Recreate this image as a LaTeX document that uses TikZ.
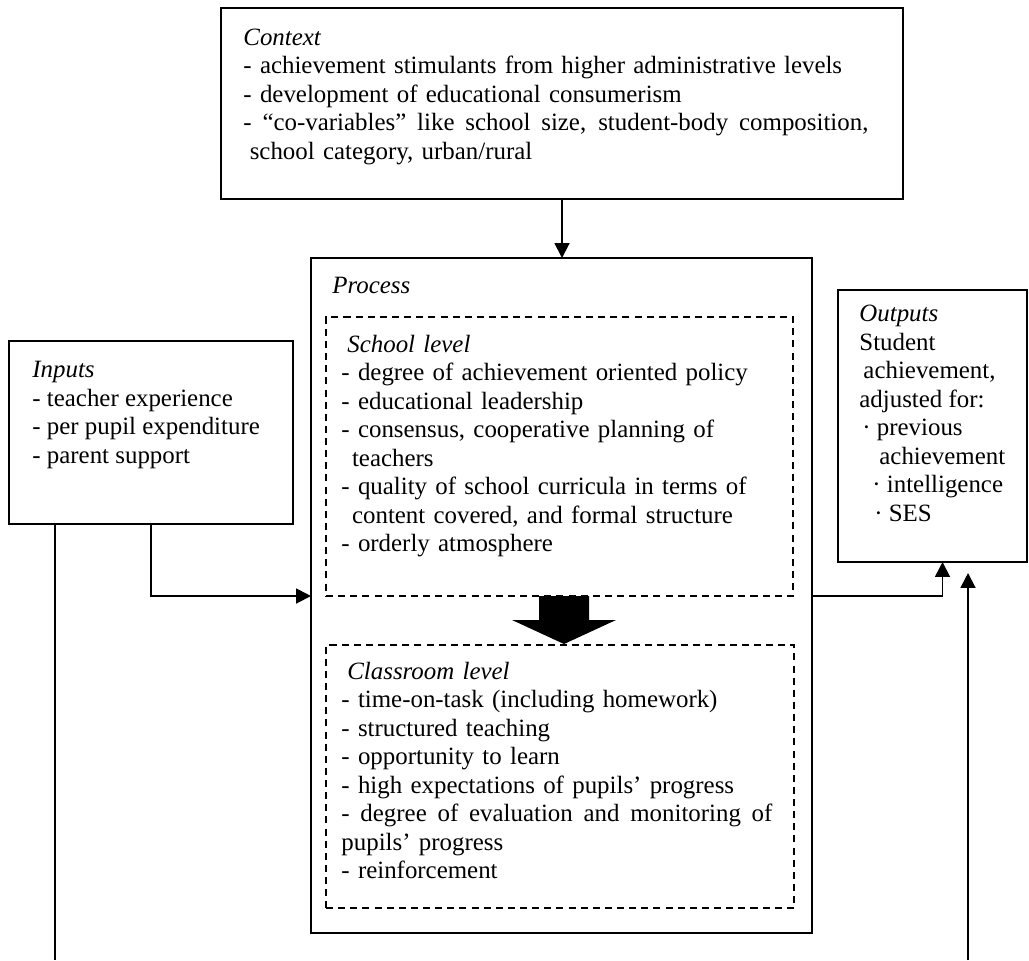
\documentclass[tikz,border=0pt]{standalone}
\usepackage{fontspec}
\setmainfont{Liberation Serif}
\usetikzlibrary{arrows.meta}

\newcommand\pxu{0.47pt}
\newcommand\fullline[1]{\makebox[\hsize][s]{\spaceskip=0pt \xspaceskip=0pt #1}}
\tikzset{box/.style 2 args = {draw, line width=.9pt, inner sep=0pt, outer sep=0pt,
                              anchor=north west,
                              minimum width=#1*\pxu, minimum height=#2*\pxu},
         dbox/.style 2 args = {box={#1}{#2}, dash pattern=on 3.3pt off 2.4pt},
         txt/.style = {anchor=north west, inner sep=0pt, align=left,
                       font=\fontsize{11.7}{13.4}\selectfont,
                       execute at begin node=\strut},
         arr/.style = {line width=.9pt, -{Triangle[length=7pt, width=7pt]}},
         lne/.style = {line width=.9pt}
        }

\begin{document}
\begin{tikzpicture}[x=\pxu, y=-\pxu]
  \useasboundingbox (0,0) rectangle (1029,960);

  \node[box={682}{191}] (context) at (221,8) {};
  \node[box={501}{675}] (process) at (311,258) {};
  \node[dbox={467}{279}] (school) at (326,317) {};
  \node[dbox={468}{263}] (classroom) at (326,645) {};
  \node[box={284}{183}] (inputs) at (9,341) {};
  \node[box={189}{272}] (outputs) at (838,290) {};

  \node[txt, text width=625*\pxu] (contexttxt) at ([shift={(22,17)}]context.north west)
    {\textit{Context}\\
     - achievement stimulants from higher administrative levels\\
     - development of educational consumerism\\
     \fullline{- “co-variables” like school size, student-body composition,}\\
     \hspace*{3pt}school category, urban/rural};
  \node[txt] (processtxt) at ([shift={(21,15)}]process.north west) {\textit{Process}};
  \node[txt, text width=431*\pxu] (schooltxt) at ([shift={(15,15)}]school.north west)
    {\hspace*{2.8pt}\textit{School level}\\
     - degree of achievement oriented policy\\
     - educational leadership\\
     - consensus, cooperative planning of\\
     \hspace*{5pt}teachers\\
     - quality of school curricula in terms of\\
     \hspace*{5pt}content covered, and formal structure\\
     - orderly atmosphere};
  \node[txt, text width=431*\pxu] (classroomtxt) at ([shift={(15,14)}]classroom.north west)
    {\hspace*{2.8pt}\textit{Classroom level}\\
     - time-on-task (including homework)\\
     - structured teaching\\
     - opportunity to learn\\
     - high expectations of pupils’ progress\\
     \fullline{- degree of evaluation and monitoring of}\\
     pupils’ progress\\
     - reinforcement};
  \node[txt] (inputstxt) at ([shift={(23,20)}]inputs.north west)
    {\textit{Inputs}\\
     - teacher experience\\
     - per pupil expenditure\\
     - parent support};
  \node[txt] (outputstxt) at ([shift={(21,15)}]outputs.north west)
    {\textit{Outputs}\\
     Student\\
     \hspace*{1.9pt}achievement,\\
     adjusted for:\\
     \hspace*{1.4pt}· previous\\
     \hspace*{9.4pt}achievement\\
     \hspace*{6.1pt}· intelligence\\
     \hspace*{7pt}· SES};

  \coordinate (lbot) at (55,960);
  \coordinate (rbot) at (968,960);
  \coordinate (rtop) at (968,573);

  \draw[arr] (context.south) -- (context.south |- process.north);
  \draw[arr] (inputs.south) |- (school.south -| process.west);
  \draw[arr] (school.south -| process.east) -| ([shift={(10,0)}]outputs.south);
  \draw[lne] (inputs.south -| lbot) -- (lbot);
  \draw[arr] (rbot) -- (rtop);
  \fill[shift={(564,596)}] (-25,0) -- (25,0) -- (25,24) -- (52,24) -- (0,48)
    -- (-52,24) -- (-25,24) -- cycle;
\end{tikzpicture}
\end{document}
